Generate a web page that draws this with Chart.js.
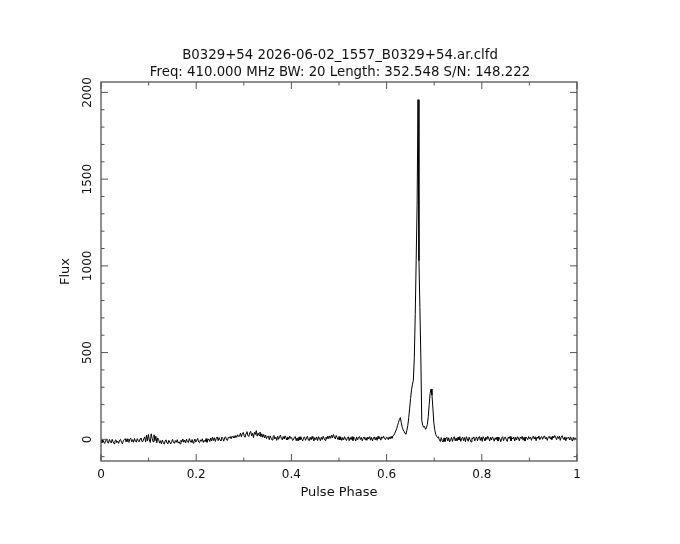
<!DOCTYPE html>
<html>
<head>
<meta charset="utf-8">
<title>B0329+54 pulse profile</title>
<script src="https://cdn.jsdelivr.net/npm/chart.js@4.4.1/dist/chart.umd.min.js"></script>
<style>
  html, body { margin: 0; padding: 0; background: #fff; }
  #wrap { width: 680px; height: 544px; }
</style>
</head>
<body>
<div id="wrap"><canvas id="profileChart"></canvas></div>
<script>
const titleLines = [
  "B0329+54 2026-06-02_1557_B0329+54.ar.clfd",
  "Freq: 410.000 MHz BW: 20 Length: 352.548 S/N: 148.222"
];
const xTickValues = [0, 0.2, 0.4, 0.6, 0.8, 1];
const yTickValues = [0, 500, 1000, 1500, 2000];

// flux per phase bin (512 bins over one turn)
const fluxValues = [
  // 0.00 - 0.05
  -2,-20,-4,-16,-24,-6,2,-18,-22,-1,-12,-21,0,-15,-25,-8,-3,-19,-11,-23,-5,0,-17,-26,-9,-2,
  // 0.05 - 0.09
  4,-15,3,-12,-18,1,6,-14,-2,-17,5,-11,-16,4,-8,-15,2,8,-12,-13,3,
  // 0.09 - 0.12
  14,-16,24,-10,28,-4,-18,32,6,-14,26,-8,18,-20,8,
  // 0.12 - 0.17
  -2,-22,-8,-26,-4,-18,-28,-10,-3,-21,-24,-6,-16,-27,-12,-1,-19,-23,-7,-17,-2,-22,-14,-26,-5,-15,
  // 0.17 - 0.23
  2,-17,-4,-21,1,-14,-19,4,-10,-18,-1,-22,-12,2,-16,-5,5,-15,-20,-3,-11,3,-18,-6,-14,4,-17,-2,1,-13,
  // 0.23 - 0.28
  8,-10,12,-7,9,-12,6,14,-8,10,-4,-9,13,5,-11,9,15,-3,-6,12,8,16,3,18,10,20,
  // 0.28 - 0.29
  8,22,12,26,16,
  // 0.29 - 0.35
  18,36,14,32,40,20,12,34,44,22,16,38,46,20,34,10,40,28,50,18,36,22,42,14,32,12,28,8,24,4,16,
  // 0.35 - 0.40
  18,-2,20,6,-4,14,22,2,12,-6,18,0,14,24,4,-3,16,2,20,8,-4,14,0,18,6,
  // 0.40 - 0.60
  10,-6,-2,12,16,-8,8,-10,14,-3,15,-1,-9,11,13,-6,7,18,-4,-8,
  12,-3,16,4,-9,10,-2,14,-7,15,6,-8,12,-1,17,5,-6,13,2,19,
  4,20,6,24,8,28,14,2,22,10,-2,16,-4,12,-6,10,-3,15,2,-7,
  9,14,-8,10,-2,15,-7,12,4,-9,14,-3,9,16,-1,11,-8,6,14,-2,
  10,-6,13,2,16,-5,11,-9,8,14,-3,12,-6,17,4,10,-5,14,6,18,4,-2,12,
  // 0.60 - 0.71 (pulse)
  10,-2,14,2,16,6,20,24,35,48,
  60,80,98,115,125,95,70,55,45,34,
  30,52,80,125,180,235,285,318,340,470,
  720,1030,1350,1958,1030,760,480,110,82,70,
  74,58,66,85,130,200,265,290,255,180,
  95,55,28,18,10,
  // 0.71 - 1.00
  14,-6,-12,10,-8,-16,8,-13,4,12,-10,9,-15,-2,11,-12,6,15,-9,8,
  -10,12,-4,16,-12,6,13,-8,10,-14,15,2,-11,12,-3,-15,9,4,14,-10,
  6,14,-9,10,16,-6,12,-12,15,4,-8,13,-1,17,8,-10,12,-4,14,5,
  -11,9,-2,13,-10,12,3,-14,6,15,-8,10,13,-3,-12,12,5,16,-9,9,
  2,13,-10,12,-4,15,8,-9,13,4,17,-5,11,-10,14,7,-2,16,4,12,
  -6,11,18,2,15,-8,13,6,19,-2,10,16,0,14,20,3,12,-6,10,17,
  4,15,-3,19,8,22,10,-2,16,5,18,-6,12,21,6,-1,14,-8,11,6,
  12,-4,14,2,-10,11,-5,9,2
];

const fontFamily = "'DejaVu Sans', sans-serif";
const textColor = '#111';
const frameColor = '#555';

const profilePoints = fluxValues.map((f, i) => ({ x: i / fluxValues.length, y: f }));

// pgplot style: frame plus ticks pointing inwards on all four sides
const insideTicks = {
  id: 'insideTicks',
  afterDatasetsDraw(chart) {
    const { ctx, chartArea: area, scales } = chart;
    const xs = scales.x;
    const ys = scales.y;
    const majorLen = 7;
    const minorLen = 3.5;

    ctx.save();
    ctx.strokeStyle = frameColor;
    ctx.lineWidth = 1;
    ctx.beginPath();
    for (let i = 0; i <= 10; i++) {
      const px = xs.getPixelForValue(i / 10);
      const len = i % 2 === 0 ? majorLen : minorLen;
      ctx.moveTo(px, area.bottom);
      ctx.lineTo(px, area.bottom - len);
      ctx.moveTo(px, area.top);
      ctx.lineTo(px, area.top + len);
    }
    for (let k = -1; k <= 20; k++) {
      const py = ys.getPixelForValue(k * 100);
      const len = k % 5 === 0 ? majorLen : minorLen;
      ctx.moveTo(area.left, py);
      ctx.lineTo(area.left + len, py);
      ctx.moveTo(area.right, py);
      ctx.lineTo(area.right - len, py);
    }
    ctx.stroke();
    ctx.lineWidth = 1.3;
    ctx.strokeRect(area.left, area.top, area.right - area.left, area.bottom - area.top);
    ctx.restore();
  }
};

const ctx = document.getElementById('profileChart').getContext('2d');
new Chart(ctx, {
  type: 'line',
  data: {
    datasets: [{
      data: profilePoints,
      borderColor: '#000',
      borderWidth: 1,
      pointRadius: 0,
      tension: 0,
      fill: false
    }]
  },
  options: {
    responsive: true,
    maintainAspectRatio: false,
    animation: false,
    layout: { padding: 0 },
    plugins: {
      legend: { display: false },
      tooltip: { enabled: false },
      title: {
        display: true,
        text: titleLines,
        color: textColor,
        font: { family: fontFamily, size: 13.3, weight: 'normal', lineHeight: '17px' },
        padding: { top: 47, bottom: 1 }
      }
    },
    scales: {
      x: {
        type: 'linear',
        min: 0,
        max: 1,
        afterBuildTicks: s => { s.ticks = xTickValues.map(v => ({ value: v })); },
        afterFit: s => { s.height = 83; },
        grid: { display: false, drawTicks: false },
        border: { display: false },
        ticks: {
          autoSkip: false,
          maxRotation: 0,
          padding: 7,
          color: textColor,
          font: { family: fontFamily, size: 12 },
          callback: v => String(v)
        },
        title: {
          display: true,
          text: 'Pulse Phase',
          color: textColor,
          font: { family: fontFamily, size: 13 },
          padding: { top: 0, bottom: 44 }
        }
      },
      y: {
        type: 'linear',
        min: -125,
        max: 2060,
        afterBuildTicks: s => { s.ticks = yTickValues.map(v => ({ value: v })); },
        afterFit: s => { s.width = 101; },
        grid: { display: false, drawTicks: false },
        border: { display: false },
        ticks: {
          autoSkip: false,
          minRotation: 90,
          maxRotation: 90,
          crossAlign: 'center',
          padding: -2,
          color: textColor,
          font: { family: fontFamily, size: 12 },
          callback: v => String(v)
        },
        title: {
          display: true,
          text: 'Flux',
          color: textColor,
          font: { family: fontFamily, size: 13 },
          padding: { top: 58, bottom: 0 }
        }
      },
      // empty right margin so the title centres over the frame
      yRight: {
        type: 'linear',
        position: 'right',
        min: -125,
        max: 2060,
        afterFit: s => { s.width = 103; },
        grid: { display: false, drawTicks: false },
        border: { display: false },
        ticks: { display: false }
      }
    }
  },
  plugins: [insideTicks]
});
</script>
</body>
</html>
